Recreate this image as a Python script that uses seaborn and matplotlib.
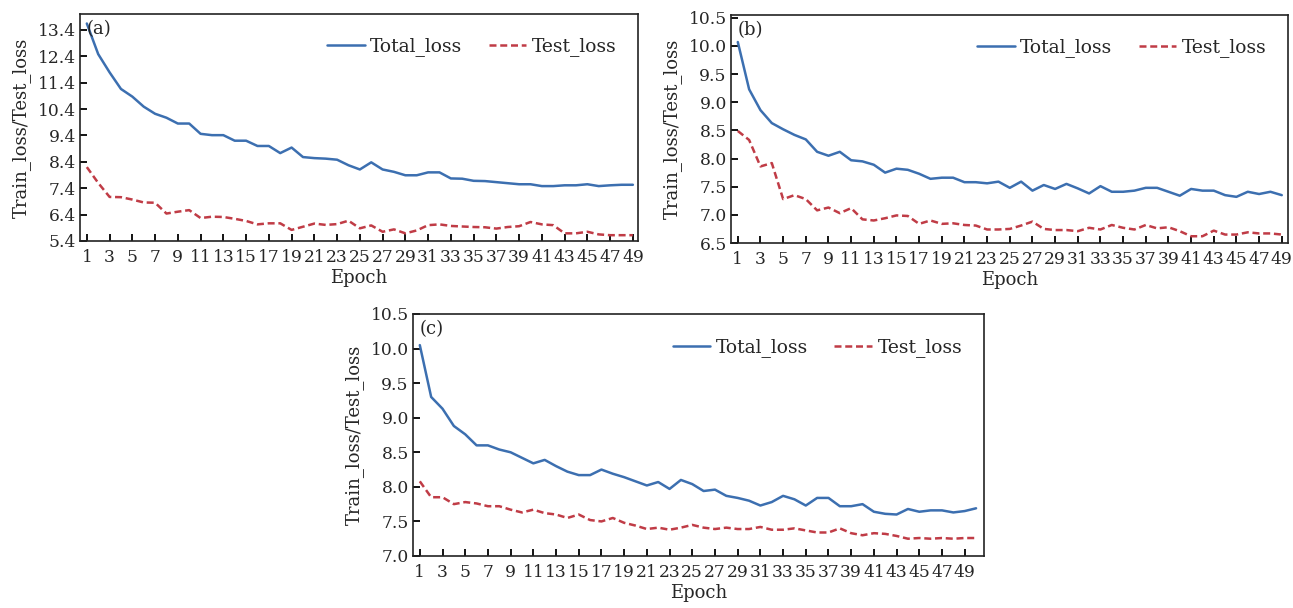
import seaborn as sns
import numpy as np
import matplotlib.pyplot as plt

# epochs
epochs_ab = list(range(1, 50))
epochs_c = list(range(1, 51))

# (a)
total_a = [13.64, 12.48, 11.79, 11.16, 10.87, 10.49, 10.22, 10.07, 9.85, 9.85,
           9.46, 9.41, 9.41, 9.20, 9.20, 9.00, 9.00, 8.73, 8.94, 8.58,
           8.54, 8.52, 8.48, 8.27, 8.11, 8.38, 8.11, 8.02, 7.89, 7.89,
           8.00, 8.00, 7.77, 7.76, 7.68, 7.67, 7.63, 7.59, 7.55, 7.55,
           7.48, 7.48, 7.51, 7.51, 7.55, 7.48, 7.51, 7.53, 7.53]
test_a = [8.20, 7.60, 7.07, 7.06, 6.97, 6.86, 6.85, 6.44, 6.51, 6.57,
          6.27, 6.32, 6.31, 6.24, 6.16, 6.03, 6.07, 6.07, 5.82, 5.94,
          6.06, 6.01, 6.04, 6.17, 5.88, 5.99, 5.75, 5.84, 5.69, 5.80,
          6.00, 6.03, 5.97, 5.95, 5.93, 5.92, 5.87, 5.93, 5.96, 6.12,
          6.03, 6.00, 5.69, 5.69, 5.75, 5.65, 5.62, 5.62, 5.62]

# (b)
total_b = [10.07, 9.23, 8.86, 8.63, 8.52, 8.42, 8.34, 8.12, 8.05, 8.12,
           7.97, 7.95, 7.89, 7.75, 7.82, 7.80, 7.73, 7.64, 7.66, 7.66,
           7.58, 7.58, 7.56, 7.59, 7.48, 7.59, 7.43, 7.53, 7.46, 7.55,
           7.47, 7.38, 7.51, 7.41, 7.41, 7.43, 7.48, 7.48, 7.41, 7.34,
           7.46, 7.43, 7.43, 7.35, 7.32, 7.41, 7.37, 7.41, 7.35]
test_b = [8.49, 8.33, 7.86, 7.92, 7.28, 7.35, 7.28, 7.08, 7.13, 7.03,
          7.12, 6.92, 6.90, 6.94, 6.99, 6.98, 6.84, 6.90, 6.84, 6.85,
          6.82, 6.81, 6.74, 6.74, 6.75, 6.81, 6.88, 6.75, 6.73, 6.73,
          6.71, 6.77, 6.74, 6.82, 6.77, 6.74, 6.82, 6.76, 6.78, 6.71,
          6.62, 6.62, 6.72, 6.65, 6.65, 6.69, 6.67, 6.67, 6.65]

# (c)
total_c = [10.05, 9.30, 9.13, 8.88, 8.76, 8.60, 8.60, 8.54, 8.50, 8.42,
           8.34, 8.39, 8.30, 8.22, 8.17, 8.17, 8.25, 8.19, 8.14, 8.08,
           8.02, 8.07, 7.97, 8.10, 8.04, 7.94, 7.96, 7.87, 7.84, 7.80,
           7.73, 7.78, 7.87, 7.82, 7.73, 7.84, 7.84, 7.72, 7.72, 7.75,
           7.64, 7.61, 7.60, 7.68, 7.64, 7.66, 7.66, 7.63, 7.65, 7.69]
test_c = [8.08, 7.85, 7.85, 7.75, 7.78, 7.76, 7.72, 7.72, 7.67, 7.63,
          7.67, 7.62, 7.60, 7.55, 7.60, 7.52, 7.50, 7.55, 7.48, 7.44,
          7.39, 7.41, 7.38, 7.41, 7.45, 7.41, 7.39, 7.41, 7.39, 7.39,
          7.42, 7.38, 7.38, 7.40, 7.37, 7.34, 7.34, 7.40, 7.33, 7.30,
          7.33, 7.32, 7.29, 7.25, 7.26, 7.25, 7.26, 7.25, 7.26, 7.26]

sns.set_style("white")
plt.rcParams['font.family'] = ['DejaVu Serif']

blue = '#3c6fb0'
red = '#c03c46'

fig = plt.figure(figsize=(12.93, 6.08), dpi=100)
W, H = 1293, 608

def box(l, r, t, b):
    return [l / W, 1 - b / H, (r - l) / W, (b - t) / H]

panels = [
    ("(a)", box(80, 638, 14, 241), epochs_ab, total_a, test_a, (5.4, 14.0), np.arange(5.4, 13.5, 1.0), 49.45),
    ("(b)", box(731, 1288, 15, 243), epochs_ab, total_b, test_b, (6.5, 10.55), np.arange(6.5, 10.51, 0.5), 49.55),
    ("(c)", box(413, 984, 314, 556), epochs_c, total_c, test_c, (7.0, 10.5), np.arange(7.0, 10.51, 0.5), 50.7),
]

for tag, rect, ep, tot, tst, ylim, yt, xmax in panels:
    ax = fig.add_axes(rect)
    sns.lineplot(x=ep, y=tot, ax=ax, color=blue, linewidth=1.8, label="Total_loss")
    sns.lineplot(x=ep, y=tst, ax=ax, color=red, linewidth=1.8, label="Test_loss",
                 linestyle=(0, (2.8, 1.5)))
    ax.set_xlim(0.4, xmax)
    ax.set_ylim(*ylim)
    ax.set_yticks(yt)
    ax.set_yticklabels(["%.1f" % v for v in yt])
    ax.set_xticks(list(range(1, 50, 2)))
    ax.tick_params(direction='in', length=5, width=1.3, labelsize=12.3, pad=3,
                   color='black', bottom=True, left=True, top=False, right=False)
    ax.tick_params(axis='x', pad=6)
    for s in ax.spines.values():
        s.set_color('#222222')
        s.set_linewidth(1.2)
    ax.set_xlabel("Epoch", fontsize=13, labelpad=2)
    ax.set_ylabel("Train_loss/Test_loss", fontsize=13, labelpad=5)
    ax.text(0.012, 0.975, tag, transform=ax.transAxes, fontsize=13,
            va='top', ha='left')
    ax.legend(ncol=2, frameon=False, loc='upper right', bbox_to_anchor=(0.975, 0.93),
              borderaxespad=0, fontsize=13.5, handlelength=2.0,
              handletextpad=0.3, columnspacing=1.4)

fig.savefig("out.png", dpi=100)
